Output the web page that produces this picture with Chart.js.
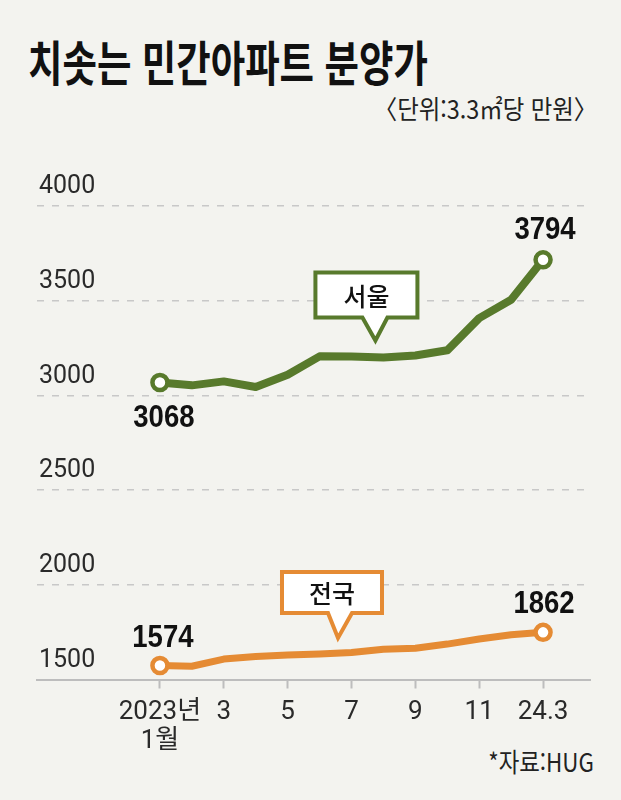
<!DOCTYPE html>
<html lang="ko">
<head>
<meta charset="utf-8">
<script src="https://cdn.jsdelivr.net/npm/chart.js@4"></script>
<style>
  html, body { margin: 0; padding: 0; background: #f3f3ef; }
  body { width: 621px; height: 800px; position: relative; overflow: hidden; font-family: 'Noto Sans CJK KR', sans-serif; }
  #title { position: absolute; left: 28px; top: 36px; font-size: 48px; line-height: 1; font-weight: 700; color: #111;
           transform: scaleX(0.78); transform-origin: left top; white-space: nowrap; }
  #unit { position: absolute; right: 24px; top: 95px; font-size: 26px; line-height: 1; color: #222;
          transform: scaleX(0.9); transform-origin: right top; white-space: nowrap; }
  #source { position: absolute; right: 27px; top: 748px; font-size: 26px; line-height: 1; color: #222;
            transform: scaleX(0.86); transform-origin: right top; white-space: nowrap; }
  #wrap { position: absolute; left: 0; top: 130px; width: 621px; height: 660px; }
</style>
</head>
<body>
<div id="title">치솟는 민간아파트 분양가</div>
<div id="unit">〈단위:3.3㎡당 만원〉</div>
<div id="source">*자료:HUG</div>
<div id="wrap"><canvas id="chart"></canvas></div>
<script>
// monthly values, 2023.1 ~ 2024.3 (as drawn)
const tickLabels = [['2023년', '1월'], '', '3', '', '5', '', '7', '', '9', '', '11', '', '24.3'];
const seoul  = [3068, 3053, 3074, 3044, 3109, 3206, 3205, 3200, 3211, 3238, 3408, 3505, 3716];
const nation = [1574, 1570, 1608, 1621, 1629, 1635, 1643, 1660, 1665, 1687, 1714, 1736, 1749];
const seoulMarks  = ['3068', '3794'];   // first / last value labels
const nationMarks = ['1574', '1862'];
const seriesNames = ['서울', '전국'];
const yTicks = [1500, 2000, 2500, 3000, 3500, 4000];

const GREEN = 'rgb(88,122,44)';
const ORANGE = 'rgb(229,139,52)';
const TICKFONT = "Roboto, 'Noto Sans CJK KR', sans-serif";

const toPoints = arr => arr.map((v, i) => ({ x: i, y: v }));
const endsOnly = ctx => (ctx.dataIndex === 0 || ctx.dataIndex === ctx.dataset.data.length - 1) ? 7.5 : 0;

function lineSet(name, values, color, width) {
  return {
    label: name,
    data: toPoints(values),
    borderColor: color,
    borderWidth: width,
    borderJoinStyle: 'round',
    borderCapStyle: 'round',
    tension: 0,
    pointRadius: endsOnly,
    pointHoverRadius: endsOnly,
    pointBackgroundColor: '#ffffff',
    pointBorderColor: color,
    pointBorderWidth: 4.5
  };
}

// condensed bold number next to a point
function valueText(ctx, text, x, y) {
  ctx.save();
  ctx.translate(x, y);
  ctx.scale(0.86, 1);
  ctx.font = "bold 32px 'Liberation Sans', Arial, sans-serif";
  ctx.fillStyle = '#111';
  ctx.textAlign = 'center';
  ctx.textBaseline = 'middle';
  ctx.fillText(text, 0, 0);
  ctx.restore();
}

// callout box with a pointer, tip placed relative to a data point
function callout(ctx, text, tipX, tipY, color, box) {
  const bottom = tipY - box.gap;
  const top = bottom - box.h;
  const left = tipX - box.left;
  const right = left + box.w;
  ctx.save();
  ctx.beginPath();
  ctx.moveTo(left, top);
  ctx.lineTo(right, top);
  ctx.lineTo(right, bottom);
  ctx.lineTo(tipX + box.baseR, bottom);
  ctx.lineTo(tipX, tipY);
  ctx.lineTo(tipX - box.baseL, bottom);
  ctx.lineTo(left, bottom);
  ctx.closePath();
  ctx.fillStyle = '#ffffff';
  ctx.fill();
  ctx.lineWidth = 4;
  ctx.lineJoin = 'miter';
  ctx.strokeStyle = color;
  ctx.stroke();
  ctx.fillStyle = '#111';
  ctx.font = "500 25px 'Noto Sans CJK KR', sans-serif";
  ctx.textAlign = 'center';
  ctx.textBaseline = 'middle';
  ctx.fillText(text, (left + right) / 2, (top + bottom) / 2 + 1);
  ctx.restore();
}

const overlay = {
  id: 'overlay',
  afterDatasetsDraw(chart) {
    const ctx = chart.ctx;
    const metaS = chart.getDatasetMeta(0).data;
    const metaN = chart.getDatasetMeta(1).data;
    const last = seoul.length - 1;

    valueText(ctx, seoulMarks[0], metaS[0].x + 4, metaS[0].y + 36);
    valueText(ctx, seoulMarks[1], metaS[last].x + 2, metaS[last].y - 30);
    valueText(ctx, nationMarks[0], metaN[0].x + 3, metaN[0].y - 27);
    valueText(ctx, nationMarks[1], metaN[last].x + 1, metaN[last].y - 28);

    callout(ctx, seriesNames[0], metaS[7].x - 8, metaS[7].y - 17, GREEN,
      { left: 60, w: 102, h: 45, gap: 23, baseL: 13, baseR: 12 });
    callout(ctx, seriesNames[1], metaN[6].x - 13.5, metaN[6].y - 14.5, ORANGE,
      { left: 56, w: 100, h: 41, gap: 25, baseL: 10, baseR: 14 });
  }
};

new Chart(document.getElementById('chart'), {
  type: 'line',
  data: {
    datasets: [
      lineSet(seriesNames[0], seoul, GREEN, 8),
      lineSet(seriesNames[1], nation, ORANGE, 7)
    ]
  },
  options: {
    responsive: true,
    maintainAspectRatio: false,
    animation: false,
    events: [],
    layout: { padding: { left: 37, right: 31, top: 40, bottom: 33.5 } },
    plugins: { legend: { display: false }, tooltip: { enabled: false } },
    scales: {
      x: {
        type: 'linear',
        min: -3.85,
        max: 13.47,
        afterBuildTicks: s => {
          s.ticks = tickLabels.map((l, i) => ({ value: i })).filter(t => tickLabels[t.value] !== '');
        },
        afterFit: s => { s.height = 77; },
        grid: { drawOnChartArea: false, drawTicks: true, tickLength: 9, tickColor: '#bdbdbd', tickWidth: 2 },
        border: { display: true, color: '#bdbdbd', width: 2 },
        ticks: {
          autoSkip: false,
          maxRotation: 0,
          padding: 10,
          color: '#2a2a2a',
          font: { family: TICKFONT, size: 26, lineHeight: 1.1 },
          callback: v => tickLabels[v]
        }
      },
      y: {
        min: 1500,
        max: 4190,
        afterBuildTicks: s => { s.ticks = yTicks.map(v => ({ value: v })); },
        afterFit: s => { s.width = 0; },
        grid: {
          drawTicks: false,
          lineWidth: 1.5,
          color: c => (c.tick && c.tick.value === 1500) ? 'rgba(0,0,0,0)' : '#c8c8c8'
        },
        border: { display: false, dash: [7, 8] },
        ticks: {
          mirror: true,
          padding: 2,
          labelOffset: -19,
          color: '#2a2a2a',
          font: { family: TICKFONT, size: 25 },
          callback: v => String(v)
        }
      }
    }
  },
  plugins: [overlay]
});
</script>
</body>
</html>
